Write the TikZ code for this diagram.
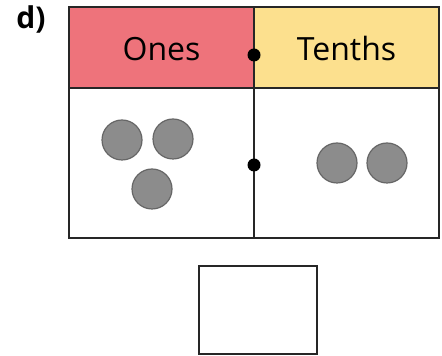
\documentclass[tikz,border=0pt]{standalone}
\usepackage{fontspec}
\setsansfont{Open Sans}
\usepackage{tikz}
\usetikzlibrary{positioning}

\definecolor{onesred}{HTML}{EE737B}
\definecolor{tenthsyellow}{HTML}{FCE08E}
\definecolor{counterfill}{HTML}{8C8C8C}

\begin{document}
\begin{tikzpicture}[x=0.5pt,y=-0.5pt,line width=1pt,font=\sffamily\fontsize{16}{18}\selectfont,
	cell/.style={draw=black!85,rectangle,minimum width=92.5pt,minimum height=75pt,inner sep=0pt,outer sep=0pt},
	heading/.style={cell,minimum height=40.5pt,text height=1.3em,text depth=0pt},
	counter/.style={circle,draw=black!60,line width=0.6pt,fill=counterfill,minimum size=20pt,inner sep=0pt},
	point/.style={circle,fill=black,minimum size=6.5pt,inner sep=0pt}]
	\useasboundingbox (0,0) rectangle (442,356);
	\node[font=\sffamily\bfseries\fontsize{15}{17}\selectfont]	(label)	at (31,19)	{d)};
	
	\node[heading,fill=onesred]			(ones)		at (161.5,47.5)				{Ones};
	\node[heading,fill=tenthsyellow]	(tenths)	[right=0pt of ones]			{Tenths};
	\node[cell]							(onesbox)	[below=0pt of ones]			{};
	\node[cell]							(tenthsbox)	[below=0pt of tenths]		{};
	
	\node[point]	(pointtop)		at (254,55)		{};
	\node[point]	(pointbottom)	at (254,165)	{};
	
	\node[counter]	(one1)	at (122,140)	{};
	\node[counter]	(one2)	at (173,139)	{};
	\node[counter]	(one3)	at (152,189)	{};
	\node[counter]	(tenth1)	at (337,163)	{};
	\node[counter]	(tenth2)	at (387,163)	{};
	
	\node[cell,minimum width=59pt,minimum height=44pt]	(answer)	at (258,310)	{};
\end{tikzpicture}
\end{document}
